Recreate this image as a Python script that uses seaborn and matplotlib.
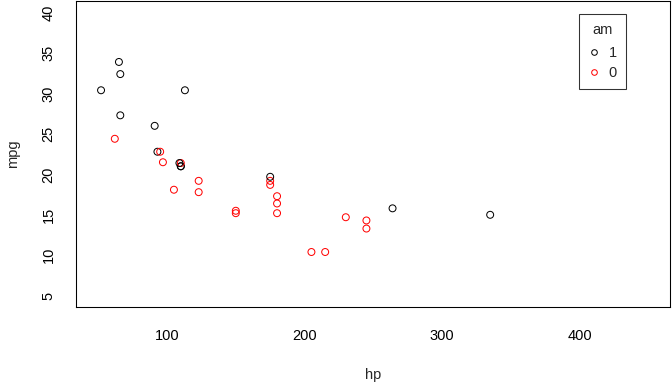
import matplotlib
matplotlib.use("Agg")
import matplotlib.pyplot as plt
import seaborn as sns
import pandas as pd
from matplotlib.lines import Line2D

hp = [110, 110, 93, 110, 175, 105, 245, 62, 95, 123, 123, 180, 180, 180, 205, 215,
      230, 66, 52, 65, 97, 150, 150, 245, 175, 66, 91, 113, 264, 175, 335, 109]
mpg = [21.0, 21.0, 22.8, 21.4, 18.7, 18.1, 14.3, 24.4, 22.8, 19.2, 17.8, 16.4, 17.3,
       15.2, 10.4, 10.4, 14.7, 32.4, 30.4, 33.9, 21.5, 15.5, 15.2, 13.3, 19.2, 27.3,
       26.0, 30.4, 15.8, 19.7, 15.0, 21.4]
am = [1, 1, 1, 0, 0, 0, 0, 0, 0, 0, 0, 0, 0, 0, 0, 0,
      0, 1, 1, 1, 0, 0, 0, 0, 0, 1, 1, 1, 1, 1, 1, 1]
x_ticks = [100, 200, 300, 400]
y_ticks = [5, 10, 15, 20, 25, 30, 35, 40]
palette = {1: "black", 0: "red"}

df = pd.DataFrame({"hp": hp, "mpg": mpg, "am": am})

sns.set_style("white")
plt.rcParams["font.family"] = ["Liberation Sans", "DejaVu Sans"]

FS = 11
fig = plt.figure(figsize=(7, 4), dpi=96)
ax = fig.add_axes([76.3 / 672, 1 - 307 / 384, (670.3 - 76.3) / 672, (307 - 1.3) / 384])
sns.scatterplot(data=df, x="hp", y="mpg", hue="am", palette=palette, ax=ax,
                s=27, linewidth=0.75, legend=False)
pts = ax.collections[0]
cols = pts.get_facecolors()
pts.set_edgecolors(cols)
pts.set_facecolors("none")

ax.set_xlim(34, 466)
ax.set_ylim(3.6, 41.4)
ax.set_xticks(x_ticks)
ax.set_yticks(y_ticks)
ax.set_xticklabels([str(v) for v in x_ticks], fontsize=FS)
ax.set_yticklabels([str(v) for v in y_ticks], fontsize=FS, rotation=90, va="center")
ax.tick_params(axis="both", direction="out", length=6.5, width=0.8, color="black",
               labelcolor="black")
ax.tick_params(axis="x", pad=10)
ax.tick_params(axis="y", pad=9)
for sp in ax.spines.values():
    sp.set_visible(True)
    sp.set_color("black")
    sp.set_linewidth(0.8)
ax.set_xlabel("hp", fontsize=FS, labelpad=19)
ax.set_ylabel("mpg", fontsize=FS, labelpad=16)

handles = [Line2D([], [], linestyle="none", marker="o", markersize=4.2,
                  markerfacecolor="none", markeredgecolor=palette[k], markeredgewidth=0.75)
           for k in [1, 0]]
leg = ax.legend(handles, ["1", "0"], title="am", loc="upper left",
                bbox_to_anchor=(0.847, 0.959), frameon=True, fancybox=False,
                edgecolor="black", fontsize=FS, title_fontsize=FS, handlelength=0.8,
                handletextpad=0.6, labelspacing=0.42, borderpad=0.6,
                borderaxespad=0)
leg._legend_box.sep = 6.8
leg.get_frame().set_linewidth(0.8)

fig.savefig("out.png", dpi=96, facecolor="white")
